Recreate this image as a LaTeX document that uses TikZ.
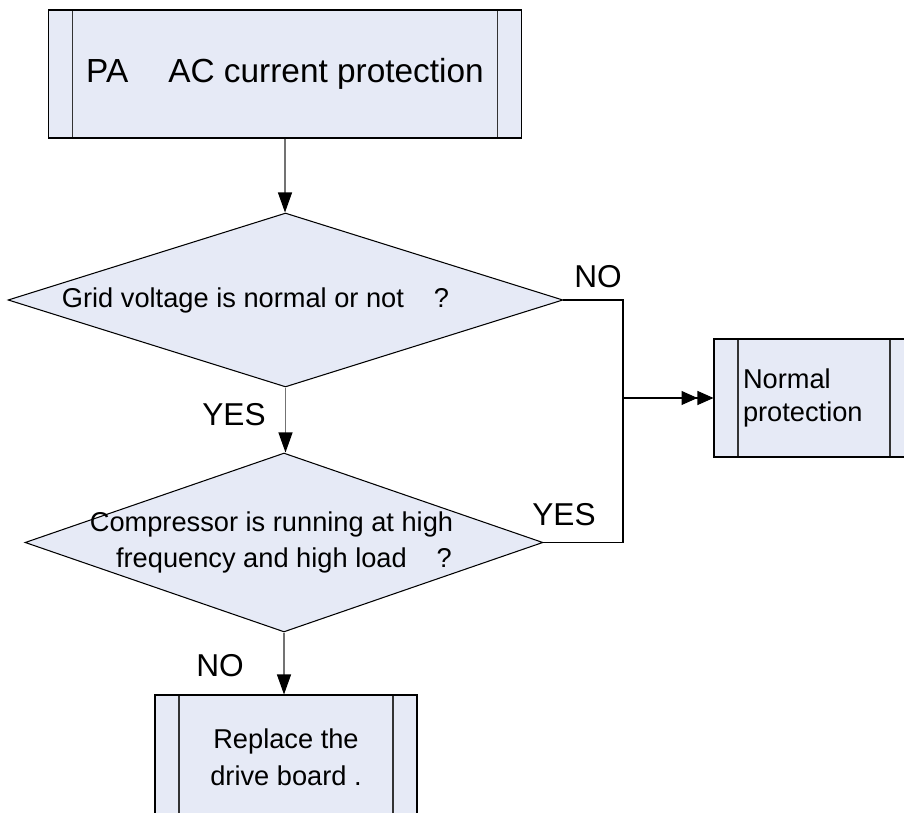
\documentclass[tikz,border=0pt]{standalone}
\usepackage{fontspec}
\setmainfont{Liberation Sans}
\usetikzlibrary{shapes.geometric,arrows.meta}
\definecolor{boxfill}{RGB}{230,234,246}

\begin{document}
\begin{tikzpicture}[x=0.02cm, y=-0.02cm,
    procbox/.style={rectangle, draw, fill=boxfill, line width=0.6pt, inner sep=0pt,
      path picture={\draw[black!80] ([xshift=0.48cm]path picture bounding box.north west) -- ([xshift=0.48cm]path picture bounding box.south west)
        ([xshift=-0.48cm]path picture bounding box.north east) -- ([xshift=-0.48cm]path picture bounding box.south east);}},
    decision/.style={diamond, draw, fill=boxfill, line width=0.6pt, inner sep=-1cm, aspect=3},
    body/.style={font=\fontsize{15.5pt}{21pt}\selectfont},
    tag/.style={font=\fontsize{18pt}{20pt}\selectfont, inner sep=0pt},
    link/.style={draw=black!55, line width=0.6pt, -{Triangle[length=0.4cm, width=0.28cm, color=black]}},
    flow/.style={draw=black, line width=0.6pt}]

    \useasboundingbox (0,0) rectangle (904,813);
    \clip (0,0) rectangle (904,813);

    % Define boxes and decisions with coordinates
    \node[procbox, minimum width=9.48cm, minimum height=2.56cm,
      font=\fontsize{19pt}{21pt}\selectfont] (start) at (285,74) {PA\hspace{1.2em}AC current protection};
    \node[decision, body, minimum width=11.1cm, minimum height=3.48cm] (grid) at (285.5,300)
      {Grid voltage is normal or not\hspace{1.1em}?\hspace*{1.2cm}};
    \node[decision, body, align=center, minimum width=10.36cm, minimum height=3.58cm] (comp) at (284,542.5)
      {Compressor is running at high\hspace*{0.5cm}\\frequency and high load\hspace{1.1em}?};
    \node[procbox, font=\fontsize{15.5pt}{19pt}\selectfont, align=left, text width=2.84cm,
      minimum width=4cm, minimum height=2.36cm] (normal) at (814,398) {Normal\\protection};
    \node[procbox, body, align=center, minimum width=5.24cm, minimum height=2.5cm] (replace) at (286,757.5)
      {Replace the\\drive board .};
    \coordinate (join) at (623,398);

    % Branch labels
    \node[tag] (gridno) at (598,277) {NO};
    \node[tag] (gridyes) at (234,415) {YES};
    \node[tag] (compyes) at (564,515) {YES};
    \node[tag] (compno) at (220,666) {NO};

    % Draw connectors between the steps
    \draw[link] (start.south) -- (start.south |- grid.north);
    \draw[link] (grid.south) -- (grid.south |- comp.north);
    \draw[link] (comp.south) -- (comp.south |- replace.north);
    \draw[flow] (grid.east) -| (join);
    \draw[flow] (comp.east) -| (join);
    \draw[flow, -{Triangle[length=0.32cm, width=0.28cm]Triangle[length=0.32cm, width=0.28cm]}] (join) -- (normal.west);
\end{tikzpicture}
\end{document}
